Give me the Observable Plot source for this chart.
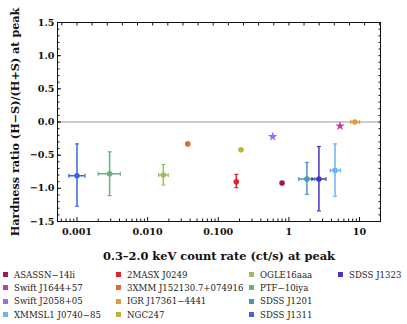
<!DOCTYPE html>
<html><head><meta charset="utf-8">
<script src="https://cdn.jsdelivr.net/npm/d3@7"></script>
<script src="https://cdn.jsdelivr.net/npm/@observablehq/plot@0.6"></script>
<style>
body{margin:0;background:#fff;font-family:"DejaVu Serif",serif;}
#legend{display:grid;grid-auto-flow:column;grid-template-rows:repeat(4,13.3px);grid-template-columns:113px 133px 89px auto;padding-left:3px;margin-top:3px;font-size:8.6px;color:#222;}
#legend div{display:flex;align-items:center;white-space:nowrap;}
#legend span.sw{display:inline-block;width:5px;height:5px;margin-right:6px;}
</style></head>
<body><div id="chart"></div><div id="legend"></div>
<script>
const names = ["ASASSN\u221214li","Swift J1644+57","Swift J2058+05","XMMSL1 J0740\u221285","2MASX J0249","3XMM J152130.7+074916","IGR J17361\u22124441","NGC247","OGLE16aaa","PTF\u221210iya","SDSS J1201","SDSS J1311","SDSS J1323"];
const colors = ["#a0185c","#c03fa6","#9b6bf0","#6fb3f5","#d9262b","#e26a30","#e09b3b","#bdb33c","#9cbd5b","#6cb082","#4b97b1","#3b68d6","#4535c2"];
const symbols = ["circle","star","star","circle","circle","circle","circle","circle","circle","circle","circle","circle","circle"];
const rate    = [0.80, 5.3, 0.59, 4.5, 0.18, 0.037, 8.6, 0.21, 0.0167, 0.0029, 1.80, 0.001, 2.66];
const hr      = [-0.92, -0.06, -0.22, -0.73, -0.90, -0.33, 0.0, -0.42, -0.80, -0.78, -0.86, -0.81, -0.86];
const rateLo  = [null, null, null, 3.85, null, null, 7.5, null, 0.0143, 0.0020, 1.38, 0.00077, 2.12];
const rateHi  = [null, null, null, 5.38, null, null, 10.0, null, 0.0196, 0.0041, 2.31, 0.0013, 3.34];
const hrLo    = [null, null, null, -1.12, -0.99, null, null, null, -0.95, -1.11, -1.09, -1.27, -1.34];
const hrHi    = [null, null, null, -0.33, -0.79, null, null, null, -0.64, -0.45, -0.61, -0.33, -0.37];
const xTicks = [0.001, 0.01, 0.1, 1, 10];
const xTickLabels = ["0.001","0.010","0.100","1","10"];
const yTicks = [-1.5,-1,-0.5,0,0.5,1,1.5];

const data = names.map((n,i)=>({name:n,color:colors[i],symbol:symbols[i],x:rate[i],y:hr[i],xlo:rateLo[i],xhi:rateHi[i],ylo:hrLo[i],yhi:hrHi[i]}));
const yErr = data.filter(d=>d.ylo!=null);
const xErr = data.filter(d=>d.xlo!=null);
const capH = {draw(ctx,size){const r=Math.sqrt(size/Math.PI);ctx.moveTo(-r,0);ctx.lineTo(r,0);}};
const capV = {draw(ctx,size){const r=Math.sqrt(size/Math.PI);ctx.moveTo(0,-r);ctx.lineTo(0,r);}};
const xLabelMap = new Map(xTicks.map((t,i)=>[t,xTickLabels[i]]));

const domainX=[0.00053,19.8];
const minorX=[]; for(let e=-4;e<=1;e++) for(let m=2;m<=9;m++){const v=m*10**e; if(v>domainX[0]&&v<domainX[1]) minorX.push(v);}
const topX=[]; for(let k=-3;k<=20;k++){const v=10**(-3+k*3/14); if(v>domainX[0]&&v<domainX[1]) topX.push(v);}
const minorY=d3.range(-15,16).map(v=>v/10);

const chart = Plot.plot({
  width:407, height:265,
  marginLeft:57, marginRight:27, marginTop:22, marginBottom:44,
  style:{fontFamily:"DejaVu Serif",fontSize:"9.6px",fontWeight:"bold",color:"#111"},
  x:{type:"log",domain:domainX},
  y:{domain:[-1.5,1.5]},
  marks:[
    Plot.ruleY([0],{stroke:"#999",strokeWidth:1}),
    Plot.axisX({ticks:xTicks,tickSize:0,tickPadding:7,tickFormat:d=>xLabelMap.get(d),label:null}),
    Plot.axisX({ticks:[],tickSize:0,label:"0.3\u20132.0 keV count rate (ct/s) at peak",labelAnchor:"center",labelOffset:38,labelArrow:"none",fontSize:11.4}),
    Plot.axisX({ticks:xTicks,tickSize:-4,text:null,label:null}),
    Plot.axisX({ticks:minorX,tickSize:-2.5,text:null,label:null}),
    Plot.axisX({anchor:"top",ticks:topX,tickSize:-2.5,text:null,label:null}),
    Plot.axisY({ticks:yTicks,tickSize:0,tickPadding:3,tickFormat:d3.format(".1f"),label:null}),
    Plot.axisY({ticks:[],tickSize:0,label:"Hardness ratio (H\u2212S)/(H+S) at peak",labelAnchor:"center",labelOffset:46,labelArrow:"none",fontSize:11.2}),
    Plot.axisY({ticks:yTicks,tickSize:-4,text:null,label:null}),
    Plot.axisY({ticks:minorY,tickSize:-2.5,text:null,label:null}),
    Plot.axisY({anchor:"right",ticks:minorY,tickSize:-2.5,text:null,label:null}),
    Plot.frame({stroke:"#111",strokeWidth:1}),
    Plot.ruleX(yErr,{x:"x",y1:"ylo",y2:"yhi",stroke:"color",strokeWidth:1.5}),
    Plot.ruleY(xErr,{y:"y",x1:"xlo",x2:"xhi",stroke:"color",strokeWidth:1.5}),
    Plot.dot(yErr,{x:"x",y:"ylo",symbol:capH,r:2,stroke:"color",strokeWidth:1.2,fill:"none"}),
    Plot.dot(yErr,{x:"x",y:"yhi",symbol:capH,r:2,stroke:"color",strokeWidth:1.2,fill:"none"}),
    Plot.dot(xErr,{x:"xlo",y:"y",symbol:capV,r:2,stroke:"color",strokeWidth:1.2,fill:"none"}),
    Plot.dot(xErr,{x:"xhi",y:"y",symbol:capV,r:2,stroke:"color",strokeWidth:1.2,fill:"none"}),
    Plot.dot(data.filter(d=>d.symbol==="circle"),{x:"x",y:"y",fill:"color",r:2.8}),
    Plot.dot(data.filter(d=>d.symbol==="star"),{x:"x",y:"y",fill:"color",symbol:"star",r:3})
  ]
});
document.getElementById("chart").append(chart);
const lg=document.getElementById("legend");
names.forEach((n,i)=>{const d=document.createElement("div");d.innerHTML=`<span class="sw" style="background:${colors[i]}"></span>${n}`;lg.append(d);});
</script></body></html>
